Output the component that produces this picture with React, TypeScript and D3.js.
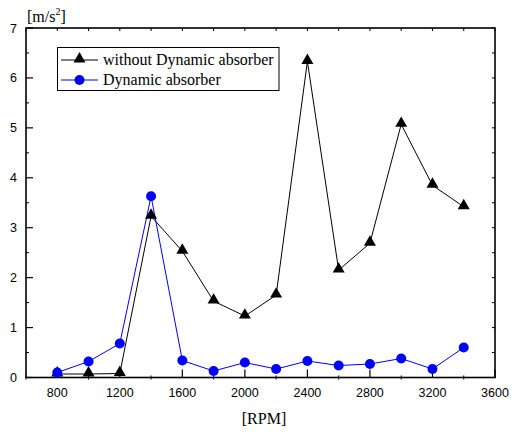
import React, { useEffect, useRef } from "react";
import * as d3 from "d3";

const rpm = [800, 1000, 1200, 1400, 1600, 1800, 2000, 2200, 2400, 2600, 2800, 3000, 3200, 3400];
const withoutAbsorber = [0.07, 0.07, 0.08, 3.23, 2.53, 1.53, 1.23, 1.65, 6.33, 2.15, 2.69, 5.07, 3.85, 3.42];
const withAbsorber = [0.1, 0.32, 0.68, 3.63, 0.34, 0.13, 0.3, 0.17, 0.33, 0.24, 0.27, 0.38, 0.17, 0.6];
const xTickLabels = [800, 1200, 1600, 2000, 2400, 2800, 3200, 3600];
const yTickLabels = [0, 1, 2, 3, 4, 5, 6, 7];
const seriesNames = ["without Dynamic absorber", "Dynamic absorber"];

function App() {
  const ref = useRef<SVGSVGElement>(null);

  useEffect(() => {
    document.body.style.margin = "0";
    const svg = d3.select(ref.current);
    svg.selectAll("*").remove();

    const left = 26;
    const right = 495;
    const top = 28;
    const bottom = 377.5;

    const x = d3.scaleLinear().domain([600, 3600]).range([left, right]);
    const y = d3.scaleLinear().domain([0, 7]).range([bottom, top]);

    const sans = "'Liberation Sans', Arial, sans-serif";
    const serif = "'Liberation Serif', 'Times New Roman', serif";

    // minor ticks
    const g = svg.append("g");
    d3.range(600, 3601, 200).forEach(v => {
      g.append("line").attr("x1", x(v)).attr("x2", x(v)).attr("y1", top).attr("y2", top + 3)
        .attr("stroke", "#000");
      if (!xTickLabels.includes(v)) {
        g.append("line").attr("x1", x(v)).attr("x2", x(v)).attr("y1", bottom - 2).attr("y2", bottom + 2)
          .attr("stroke", "#000");
      }
    });
    d3.range(0, 7.01, 0.5).forEach(v => {
      g.append("line").attr("x1", right - 3).attr("x2", right).attr("y1", y(v)).attr("y2", y(v))
        .attr("stroke", "#000");
      if (!yTickLabels.includes(v)) {
        g.append("line").attr("x1", left).attr("x2", left + 3).attr("y1", y(v)).attr("y2", y(v))
          .attr("stroke", "#000");
      }
    });

    // major ticks + labels
    xTickLabels.forEach(v => {
      g.append("line").attr("x1", x(v)).attr("x2", x(v)).attr("y1", bottom).attr("y2", bottom - 8)
        .attr("stroke", "#000").attr("stroke-width", 1.2);
      g.append("text").attr("x", x(v)).attr("y", bottom + 19).attr("text-anchor", "middle")
        .attr("font-family", sans).attr("font-size", 12.5).text(v);
    });
    yTickLabels.forEach(v => {
      g.append("line").attr("x1", left).attr("x2", left + 7).attr("y1", y(v)).attr("y2", y(v))
        .attr("stroke", "#000").attr("stroke-width", 1.2);
      g.append("text").attr("x", left - 9).attr("y", y(v) + 4.5).attr("text-anchor", "end")
        .attr("font-family", sans).attr("font-size", 12.5).text(v);
    });

    // frame
    svg.append("rect").attr("x", left).attr("y", top).attr("width", right - left).attr("height", bottom - top)
      .attr("fill", "none").attr("stroke", "#000").attr("stroke-width", 1.6);

    // axis titles
    const yt = svg.append("text").attr("x", 27).attr("y", 22).attr("font-family", serif).attr("font-size", 16);
    yt.append("tspan").text("[m/s");
    yt.append("tspan").attr("font-size", 10).attr("dy", -7).text("2");
    yt.append("tspan").attr("dy", 7).text("]");
    svg.append("text").attr("x", 264).attr("y", 424).attr("text-anchor", "middle")
      .attr("font-family", serif).attr("font-size", 16).text("[RPM]");

    const line = d3.line<number>().x((d, i) => x(rpm[i])).y(d => y(d));
    const tri = d3.symbol().type(d3.symbolTriangle).size(62);

    svg.append("path").datum(withoutAbsorber).attr("d", line).attr("fill", "none").attr("stroke", "#000");
    svg.append("path").datum(withAbsorber).attr("d", line).attr("fill", "none").attr("stroke", "#0000ff");

    svg.append("g").selectAll("path").data(withoutAbsorber).enter().append("path")
      .attr("d", tri)
      .attr("transform", (d, i) => `translate(${x(rpm[i])},${y(d) - 1})`)
      .attr("fill", "#000");
    svg.append("g").selectAll("circle").data(withAbsorber).enter().append("circle")
      .attr("cx", (d, i) => x(rpm[i])).attr("cy", d => y(d)).attr("r", 5)
      .attr("fill", "#0000ff");

    // legend
    const lg = svg.append("g");
    lg.append("rect").attr("x", 57.5).attr("y", 47.5).attr("width", 221.5).attr("height", 43)
      .attr("fill", "#fff").attr("stroke", "#000");
    seriesNames.forEach((name, i) => {
      const ly = 60 + i * 20;
      const color = i === 0 ? "#000" : "#0000ff";
      lg.append("line").attr("x1", 61).attr("x2", 98).attr("y1", ly).attr("y2", ly).attr("stroke", color);
      if (i === 0) {
        lg.append("path").attr("d", tri).attr("transform", `translate(79.5,${ly - 1})`).attr("fill", color);
      } else {
        lg.append("circle").attr("cx", 79.5).attr("cy", ly).attr("r", 5).attr("fill", color);
      }
      lg.append("text").attr("x", 103).attr("y", ly + 5).attr("font-family", serif).attr("font-size", 16)
        .text(name);
    });
  }, []);

  return <svg ref={ref} width={520} height={432} style={{ display: "block" }} />;
}

export default App;
